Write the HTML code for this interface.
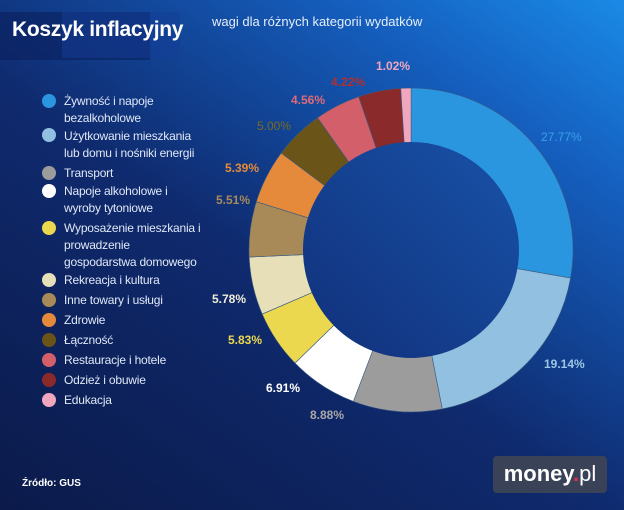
<!DOCTYPE html>
<html><head><meta charset="utf-8"><style>
html,body{margin:0;padding:0}
body{width:624px;height:510px;overflow:hidden;position:relative;font-family:"Liberation Sans","DejaVu Sans",sans-serif;
background:linear-gradient(35deg,#0b1a4a 0%,#0f2a6e 45%,#1560c0 80%,#1a8ae6 100%);}
.t{position:absolute;color:#fff}
.box{position:absolute;left:0;top:12px;width:150px;height:48px;background:rgba(10,30,90,0.55)}
.box2{position:absolute;left:62px;top:12px;width:118px;height:46px;background:rgba(20,60,150,0.5)}
.leg{position:absolute;left:64px;color:#dfe8f6;font-size:12px;line-height:17px;letter-spacing:-0.2px}
.dot{position:absolute;left:42px;width:14px;height:14px;border-radius:50%}
</style></head><body>
<div class="box"></div><div class="box2"></div>
<div class="t" style="left:12px;top:18px;font-size:21px;font-weight:bold;letter-spacing:-0.3px">Koszyk inflacyjny</div>
<div class="t" style="left:212px;top:14px;font-size:13px;color:#e6eefa">wagi dla różnych kategorii wydatków</div>

<div class="dot" style="top:94px;background:#2b96e0"></div><div class="leg" style="top:93px">Żywność i napoje<br>bezalkoholowe</div>
<div class="dot" style="top:128px;background:#92c0e0"></div><div class="leg" style="top:128px">Użytkowanie mieszkania<br>lub domu i nośniki energii</div>
<div class="dot" style="top:166px;background:#9c9c9c"></div><div class="leg" style="top:165px">Transport</div>
<div class="dot" style="top:184px;background:#ffffff"></div><div class="leg" style="top:183px">Napoje alkoholowe i<br>wyroby tytoniowe</div>
<div class="dot" style="top:221px;background:#ecd84f"></div><div class="leg" style="top:220px">Wyposażenie mieszkania i<br>prowadzenie<br>gospodarstwa domowego</div>
<div class="dot" style="top:273px;background:#e6dfb8"></div><div class="leg" style="top:272px">Rekreacja i kultura</div>
<div class="dot" style="top:293px;background:#a88a58"></div><div class="leg" style="top:292px">Inne towary i usługi</div>
<div class="dot" style="top:313px;background:#e58a3a"></div><div class="leg" style="top:312px">Zdrowie</div>
<div class="dot" style="top:333px;background:#6b5418"></div><div class="leg" style="top:332px">Łączność</div>
<div class="dot" style="top:353px;background:#d35f6b"></div><div class="leg" style="top:352px">Restauracje i hotele</div>
<div class="dot" style="top:373px;background:#8b2a2a"></div><div class="leg" style="top:372px">Odzież i obuwie</div>
<div class="dot" style="top:393px;background:#f2a6bd"></div><div class="leg" style="top:392px">Edukacja</div>

<svg id="s" width="624" height="510" style="position:absolute;left:0;top:0" font-family="Liberation Sans, sans-serif" font-size="12">
<defs><linearGradient id="ig" x1="0" y1="1" x2="1" y2="0"><stop offset="0" stop-color="#11307a"/><stop offset="1" stop-color="#1852a8"/></linearGradient></defs>
<g id="g"></g>
<circle cx="411" cy="250" r="108" fill="url(#ig)"/>
<g font-weight="bold">
<text x="541" y="141" fill="#3aa0ea" font-weight="normal">27.77%</text>
<text x="544" y="368" fill="#9cc6e6">19.14%</text>
<text x="327" y="419" fill="#a8a8a8" text-anchor="middle">8.88%</text>
<text x="300" y="392" fill="#ffffff" text-anchor="end">6.91%</text>
<text x="262" y="344" fill="#ecd84f" text-anchor="end">5.83%</text>
<text x="246" y="303" fill="#f0ecd8" text-anchor="end">5.78%</text>
<text x="250" y="204" fill="#a88a58" text-anchor="end">5.51%</text>
<text x="259" y="172" fill="#e58a3a" text-anchor="end">5.39%</text>
<text x="274" y="130" fill="#7a6a20" text-anchor="middle" font-weight="normal">5.00%</text>
<text x="308" y="104" fill="#e06a78" text-anchor="middle">4.56%</text>
<text x="348" y="86" fill="#b03030" text-anchor="middle">4.22%</text>
<text x="393" y="70" fill="#f2a6bd" text-anchor="middle">1.02%</text>
</g>
</svg>
<div class="t" style="left:22px;top:478px;font-size:10px;font-weight:bold">Źródło: GUS</div>
<div style="position:absolute;left:493px;top:456px;width:114px;height:37px;background:#3a4258;border-radius:4px;color:#fff;font-size:22px;font-weight:bold;text-align:center;line-height:35px">money<span style="color:#e0304a">.</span><span style="font-weight:normal">pl</span></div>
<script>
var v=[27.77,19.14,8.88,6.91,5.83,5.78,5.51,5.39,5.00,4.56,4.22,1.02];
var c=["#2b96e0","#92c0e0","#9c9c9c","#ffffff","#ecd84f","#e6dfb8","#a88a58","#e58a3a","#6b5418","#d35f6b","#8b2a2a","#f2a6bd"];
var cx=411,cy=250,R=162,a=0,h="";
for(var i=0;i<v.length;i++){var b=a+v[i]/100*2*Math.PI;
var x1=cx+R*Math.sin(a),y1=cy-R*Math.cos(a),x2=cx+R*Math.sin(b),y2=cy-R*Math.cos(b);
h+='<path d="M'+cx+' '+cy+'L'+x1+' '+y1+'A'+R+' '+R+' 0 '+((b-a)>Math.PI?1:0)+' 1 '+x2+' '+y2+'Z" fill="'+c[i]+'" stroke="#3a5a80" stroke-width="0.6"/>';a=b;}
document.getElementById("g").innerHTML=h;
</script>
</body></html>
